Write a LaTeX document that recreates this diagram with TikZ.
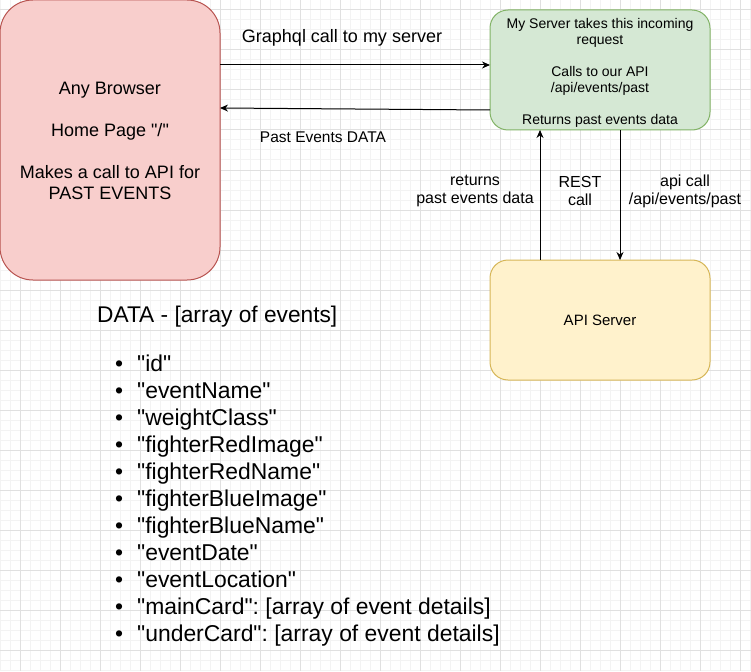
\documentclass[tikz,border=0pt]{standalone}
\usepackage{fontspec}
\setmainfont{Liberation Sans}[Ligatures=TeXReset]
\usetikzlibrary{arrows.meta}
\definecolor{gridminor}{HTML}{F3F3F3}
\definecolor{gridmajor}{HTML}{E0E0E0}
\definecolor{redf}{HTML}{F8CECC}
\definecolor{reds}{HTML}{B85450}
\definecolor{greenf}{HTML}{D5E8D4}
\definecolor{greens}{HTML}{82B366}
\definecolor{yellowf}{HTML}{FFF2CC}
\definecolor{yellows}{HTML}{D6B656}
\frenchspacing
\begin{document}
\begin{tikzpicture}[x=1pt,y=-1pt,
  box/.style={draw, line width=1pt, inner sep=0pt, outer sep=0pt, align=center, text=black},
  arr/.style={draw=black, line width=1pt, -{Stealth[length=8pt,width=7pt]}},
  lbl/.style={inner sep=0pt, align=center, text=black}]
\useasboundingbox (0,0) rectangle (751,671);
\fill[white] (0,0) rectangle (751,671);
% grid
\foreach \x in {0,10,...,750} \draw[gridminor, line width=1pt] (\x,0) -- (\x,671);
\foreach \y in {0,10,...,670} \draw[gridminor, line width=1pt] (0,\y) -- (751,\y);
\foreach \x in {20,60,...,740} \draw[gridmajor, line width=1pt] (\x,0) -- (\x,671);
\foreach \y in {10,50,...,650} \draw[gridmajor, line width=1pt] (0,\y) -- (751,\y);
% boxes
\node[box, fill=redf, draw=reds, rounded corners=33pt, minimum width=220pt, minimum height=280pt] (browser) at (110,140) {};
\node[lbl, font=\fontsize{18}{21}\selectfont] (browsertxt) at (110,141)
  {Any Browser\\[21pt]Home Page "/"\\[21pt]Makes a call to API for\\PAST EVENTS};
\node[box, fill=greenf, draw=greens, rounded corners=18pt, minimum width=220pt, minimum height=120pt] (server) at (600,70) {};
\node[lbl, font=\fontsize{14}{16}\selectfont] (servertxt) at (600,72.5)
  {My Server takes this incoming\\request\\[16pt]Calls to our API\\/api/events/past\\[16pt]Returns past events data};
\node[box, fill=yellowf, draw=yellows, rounded corners=18pt, minimum width=220pt, minimum height=120pt,
  font=\fontsize{15}{18}\selectfont] (api) at (600,320) {API Server};
% connector end points
\coordinate (gin) at ([yshift=5pt]server.west);
\coordinate (gout) at ([yshift=-40pt]server.west);
\coordinate (bin) at ([yshift=32pt]browser.east);
\coordinate (upfrom) at ([xshift=-60pt]api.north);
\coordinate (upto) at ([xshift=-60pt]server.south);
\coordinate (downfrom) at ([xshift=20pt]server.south);
\coordinate (downto) at ([xshift=20pt]api.north);
% connectors
\draw[arr] (browser.east |- gin) -- (gin);
\draw[arr] (gout) -- (bin);
\draw[arr] (upfrom) -- (upto);
\draw[arr] (downfrom) -- (downto);
% labels
\node[lbl, font=\fontsize{18}{21}\selectfont] (lgraph) at (342,37.5) {Graphql call to my server};
\node[lbl, font=\fontsize{15.5}{18}\selectfont] (lpast) at (323,137.5) {Past Events DATA};
\node[lbl, font=\fontsize{16}{18}\selectfont] (lret) at (475,191) {returns\\past events data};
\node[lbl, font=\fontsize{16}{18}\selectfont] (lrest) at (580,191) {REST\\call};
\node[lbl, font=\fontsize{16}{18}\selectfont] (lapi) at (685,191) {api call\\/api/events/past};
% data list
\node[lbl, anchor=base west, font=\fontsize{22.7}{27}\selectfont] (dtitle) at (97,322) {DATA - [array of events]};
\node[lbl, anchor=base west, font=\fontsize{22.9}{27.07}\selectfont] (dlist) at (115,371)
  {\begin{tabular}[t]{@{}l@{}}
  \makebox[22pt][l]{\textbullet}"id"\\
  \makebox[22pt][l]{\textbullet}"eventName"\\
  \makebox[22pt][l]{\textbullet}"weightClass"\\
  \makebox[22pt][l]{\textbullet}"fighterRedImage"\\
  \makebox[22pt][l]{\textbullet}"fighterRedName"\\
  \makebox[22pt][l]{\textbullet}"fighterBlueImage"\\
  \makebox[22pt][l]{\textbullet}"fighterBlueName"\\
  \makebox[22pt][l]{\textbullet}"eventDate"\\
  \makebox[22pt][l]{\textbullet}"eventLocation"\\
  \makebox[22pt][l]{\textbullet}"mainCard": [array of event details]\\
  \makebox[22pt][l]{\textbullet}"underCard": [array of event details]
  \end{tabular}};
\end{tikzpicture}
\end{document}
